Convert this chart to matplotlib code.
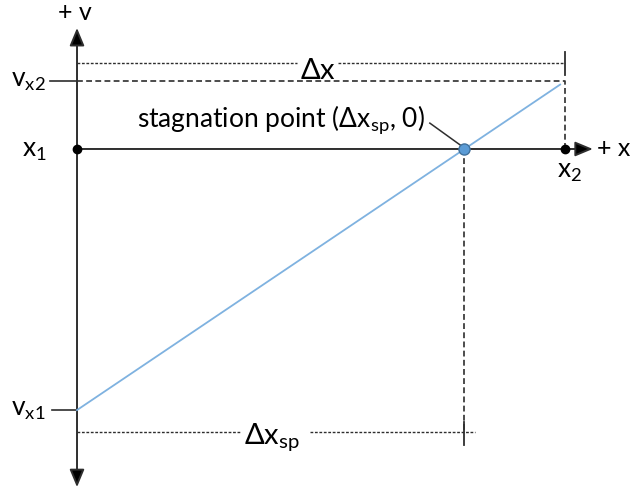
import matplotlib
matplotlib.use('Agg')
import matplotlib.pyplot as plt
import numpy as np

plt.rcParams['font.family'] = ['Lato', 'DejaVu Sans']
plt.rcParams['mathtext.fontset'] = 'custom'
plt.rcParams['mathtext.rm'] = 'Lato'
plt.rcParams['mathtext.it'] = 'Lato'

# diagram values (arbitrary units, x2 = 10)
x_points = [0.0, 10.0]          # x1, x2
v_points = [-5.35, 1.39]        # v_x1, v_x2
line_x = [0.0, 9.9]
line_v = [-5.35, 1.32]
dx_level = 1.76
dxsp_level = -5.8

slope = (v_points[1] - v_points[0]) / (x_points[1] - x_points[0])
x_sp = -v_points[0] / slope

axis_col = '#2e2e2e'
fs = 19

fig = plt.figure(figsize=(6.33, 4.88), dpi=100)
ax = fig.add_axes([0, 0, 1, 1])
ax.set_xlim(-1.578, 11.393)
ax.set_ylim(-6.947, 3.053)
ax.axis('off')

# axes with arrows
head = '<|-|>,head_length=0.6,head_width=0.25'
ax.annotate('', xy=(0, 2.48), xytext=(0, -6.93),
            arrowprops=dict(arrowstyle=head, mutation_scale=18, color=axis_col,
                            fc='black', lw=1.4, shrinkA=0, shrinkB=0))
ax.annotate('', xy=(10.57, 0), xytext=(0, 0),
            arrowprops=dict(arrowstyle='-|>,head_length=0.6,head_width=0.25',
                            mutation_scale=18, color=axis_col, fc='black',
                            lw=1.4, shrinkA=0, shrinkB=0))
ax.plot(x_points, [0, 0], 'o', color='black', ms=6, zorder=5)
ax.text(10.66, 0, '+ x', fontsize=fs - 1, va='center', ha='left')
ax.text(-0.04, 2.8, '+ v', fontsize=fs - 1, va='center', ha='center')
ax.text(-0.62, -0.04, r'x$_1$', fontsize=fs, va='center', ha='right')
ax.text(10.1, -0.47, r'x$_2$', fontsize=fs, va='center', ha='center')

# v ticks and labels
ax.plot([-0.55, 0], [v_points[1]] * 2, color=axis_col, lw=1.2)
ax.plot([-0.52, 0], [v_points[0]] * 2, color=axis_col, lw=1.2)
ax.text(-0.64, v_points[1] + 0.02, r'v$_{\mathrm{x2}}$', fontsize=fs, va='center', ha='right')
ax.text(-0.64, v_points[0] + 0.02, r'v$_{\mathrm{x1}}$', fontsize=fs, va='center', ha='right')

# dashed guide lines
dash = (0, (3.5, 2))
dot = (0, (2, 1.2))
ax.plot([0, x_points[1], x_points[1]], [v_points[1], v_points[1], 0],
        color=axis_col, lw=1.2, linestyle=dash)
ax.plot([0, 4.5], [dx_level] * 2, color=axis_col, lw=1.0, linestyle=dot)
ax.plot([5.35, x_points[1]], [dx_level] * 2, color=axis_col, lw=1.0, linestyle=dot)
ax.plot([x_points[1]] * 2, [1.51, 1.99], color=axis_col, lw=1.3)
ax.text(4.94, 1.6, r'$\Delta$x', fontsize=fs + 2, va='center', ha='center')

ax.plot([x_sp, x_sp], [0, dxsp_level], color=axis_col, lw=1.2, linestyle=dash)
ax.plot([0, 3.34], [dxsp_level] * 2, color=axis_col, lw=1.0, linestyle=dot)
ax.plot([4.77, x_sp + 0.22], [dxsp_level] * 2, color=axis_col, lw=1.0, linestyle=dot)
ax.plot([x_sp] * 2, [-5.59, -6.07], color=axis_col, lw=1.3)
ax.text(4.0, -5.9, r'$\Delta$x$_{\mathrm{sp}}$', fontsize=fs + 2, va='center', ha='center')

# velocity line
ax.plot(line_x, line_v, color='#7fb2e0', lw=1.3, zorder=4)
ax.plot([x_sp], [0], 'o', color='#5b9bd5', mec='#41719c', ms=8, zorder=6)

# stagnation label
ax.plot([7.23, x_sp], [0.53, 0.02], color=axis_col, lw=1.1)
ax.text(7.13, 0.6, r'stagnation point ($\Delta$x$_{\mathrm{sp}}$, 0)', fontsize=fs,
        va='center', ha='right')

fig.savefig('out.png', dpi=100)
